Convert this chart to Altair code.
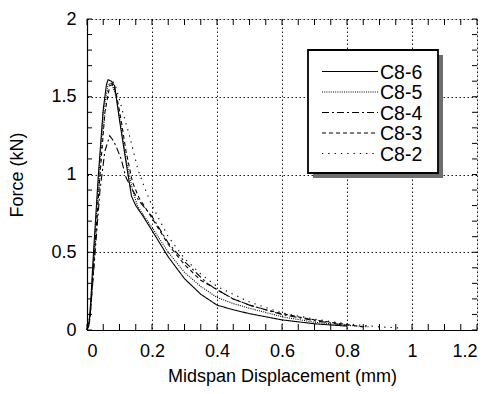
import altair as alt
import pandas as pd

names = ["C8-6", "C8-5", "C8-4", "C8-3", "C8-2"]

x6 = [0, 0.006, 0.012, 0.02, 0.035, 0.05, 0.06, 0.065, 0.075, 0.085, 0.1, 0.12, 0.137, 0.15, 0.17, 0.2, 0.25, 0.3, 0.35, 0.4, 0.45, 0.5, 0.6, 0.7, 0.8]
y6 = [0, 0.03, 0.2, 0.5, 1.0, 1.42, 1.58, 1.61, 1.6, 1.57, 1.35, 1.08, 0.86, 0.8, 0.74, 0.64, 0.47, 0.33, 0.23, 0.16, 0.13, 0.105, 0.065, 0.04, 0.025]

x5 = [0, 0.008, 0.02, 0.035, 0.05, 0.065, 0.075, 0.09, 0.105, 0.12, 0.14, 0.155, 0.17, 0.2, 0.25, 0.3, 0.35, 0.4, 0.45, 0.5, 0.6, 0.7, 0.8, 0.87]
y5 = [0, 0.05, 0.45, 0.95, 1.4, 1.58, 1.59, 1.5, 1.3, 1.1, 0.9, 0.8, 0.75, 0.66, 0.5, 0.37, 0.28, 0.21, 0.17, 0.14, 0.085, 0.05, 0.03, 0.02]

x4 = [0, 0.01, 0.025, 0.04, 0.055, 0.07, 0.08, 0.09, 0.105, 0.12, 0.14, 0.16, 0.2, 0.25, 0.3, 0.34, 0.37, 0.4, 0.45, 0.5, 0.6, 0.7, 0.8]
y4 = [0, 0.1, 0.5, 0.9, 1.15, 1.25, 1.22, 1.18, 1.1, 0.98, 0.9, 0.83, 0.73, 0.56, 0.44, 0.36, 0.3, 0.26, 0.2, 0.16, 0.1, 0.06, 0.03]

x3 = [0, 0.01, 0.025, 0.04, 0.055, 0.07, 0.08, 0.09, 0.105, 0.12, 0.14, 0.16, 0.2, 0.25, 0.3, 0.35, 0.4, 0.45, 0.5, 0.55, 0.6, 0.7, 0.8, 0.85]
y3 = [0, 0.08, 0.55, 1.0, 1.4, 1.57, 1.58, 1.52, 1.35, 1.15, 0.95, 0.85, 0.72, 0.55, 0.42, 0.32, 0.26, 0.2, 0.16, 0.13, 0.105, 0.065, 0.035, 0.02]

x2 = [0, 0.01, 0.03, 0.05, 0.065, 0.075, 0.085, 0.1, 0.117, 0.132, 0.157, 0.18, 0.2, 0.25, 0.3, 0.35, 0.4, 0.5, 0.6, 0.7, 0.8, 0.9, 0.97]
y2 = [0, 0.1, 0.7, 1.3, 1.55, 1.6, 1.59, 1.48, 1.35, 1.24, 1.03, 0.9, 0.8, 0.6, 0.46, 0.36, 0.28, 0.18, 0.11, 0.07, 0.04, 0.02, 0.012]

x_ticks = [0, 0.2, 0.4, 0.6, 0.8, 1.0, 1.2]
y_ticks = [0, 0.5, 1.0, 1.5, 2.0]
x_minor = [round(i * 0.05, 2) for i in range(25)]
y_minor = [round(i * 0.1, 1) for i in range(21)]

dashes = [[1, 0], [1, 1.2], [7, 3, 2, 3], [4, 3], [1.3, 5]]

W, H = 390, 311
FONT = "Liberation Sans"

series = [(x6, y6), (x5, y5), (x4, y4), (x3, y3), (x2, y2)]
rows = []
for n, (xs, ys) in zip(names, series):
    for i, (a, b) in enumerate(zip(xs, ys)):
        rows.append({"series": n, "x": a, "y": b, "order": i})
df = pd.DataFrame(rows)

xscale = alt.Scale(domain=[0, 1.2], nice=False, zero=True)
yscale = alt.Scale(domain=[0, 2], nice=False, zero=True)

base_axis = dict(
    grid=True, gridColor="black", gridDash=[1.5, 2.5], gridWidth=1, gridOpacity=0.9,
    ticks=False, tickSize=0, domainColor="black", domainWidth=1.2,
    labelFont=FONT, labelFontSize=18, labelColor="black",
    titleFont=FONT, titleFontSize=18, titleFontWeight="normal", titleColor="black",
)

lines = alt.Chart(df).mark_line(color="black", strokeWidth=1.1).encode(
    x=alt.X("x:Q", scale=xscale,
            axis=alt.Axis(values=x_ticks, title="Midspan Displacement (mm)",
                          labelPadding=12, titlePadding=7, labelExpr="format(datum.value, '.1~f')",
                          **base_axis)),
    y=alt.Y("y:Q", scale=yscale,
            axis=alt.Axis(values=y_ticks, title="Force (kN)",
                          labelPadding=11, titlePadding=24, labelExpr="format(datum.value, '.1~f')",
                          **base_axis)),
    strokeDash=alt.StrokeDash("series:N", scale=alt.Scale(domain=names, range=dashes), legend=None),
    detail="series:N",
    order="order:Q",
)

xm = pd.DataFrame({"t": x_minor})
ym = pd.DataFrame({"t": y_minor})
TL = 6
tick_b = alt.Chart(xm).mark_rule(color="black", strokeWidth=1).encode(
    x=alt.X("t:Q", scale=xscale), y=alt.value(H), y2=alt.value(H - TL))
tick_t = alt.Chart(xm).mark_rule(color="black", strokeWidth=1).encode(
    x=alt.X("t:Q", scale=xscale), y=alt.value(0), y2=alt.value(TL))
tick_l = alt.Chart(ym).mark_rule(color="black", strokeWidth=1).encode(
    y=alt.Y("t:Q", scale=yscale), x=alt.value(0), x2=alt.value(TL - 1))
tick_r = alt.Chart(ym).mark_rule(color="black", strokeWidth=1).encode(
    y=alt.Y("t:Q", scale=yscale), x=alt.value(W), x2=alt.value(W - TL + 1))

one = pd.DataFrame({"a": [0]})
LX0, LX1, LY0, LY1 = 221, 351, 31, 154
shadow = alt.Chart(one).mark_rect(color="#6e6e6e").encode(
    x=alt.value(LX0 + 5), x2=alt.value(LX1 + 5), y=alt.value(LY0 + 5), y2=alt.value(LY1 + 5))
box = alt.Chart(one).mark_rect(fill="white", stroke="black", strokeWidth=1.8).encode(
    x=alt.value(LX0), x2=alt.value(LX1), y=alt.value(LY0), y2=alt.value(LY1))

leg_layers = []
row_y = [52.5, 73, 93.5, 114, 134.5]
for n, d, ry in zip(names, dashes, row_y):
    leg_layers.append(alt.Chart(one).mark_rule(color="black", strokeWidth=1.1, strokeDash=d).encode(
        x=alt.value(235), x2=alt.value(291), y=alt.value(ry)))
    leg_layers.append(alt.Chart(one).mark_text(
        text=n, font=FONT, fontSize=19.5, align="left", baseline="middle", color="black").encode(
        x=alt.value(293), y=alt.value(ry + 1)))

chart = alt.layer(lines, tick_b, tick_t, tick_l, tick_r, shadow, box, *leg_layers).properties(
    width=W, height=H,
    autosize=alt.AutoSizeParams(type="none"),
    padding={"left": 79, "top": 11, "right": 5, "bottom": 56},
).configure_view(stroke="black", strokeWidth=1.2).configure(background="white")

chart.save("out.html", embed_options={"renderer": "svg", "actions": False})
